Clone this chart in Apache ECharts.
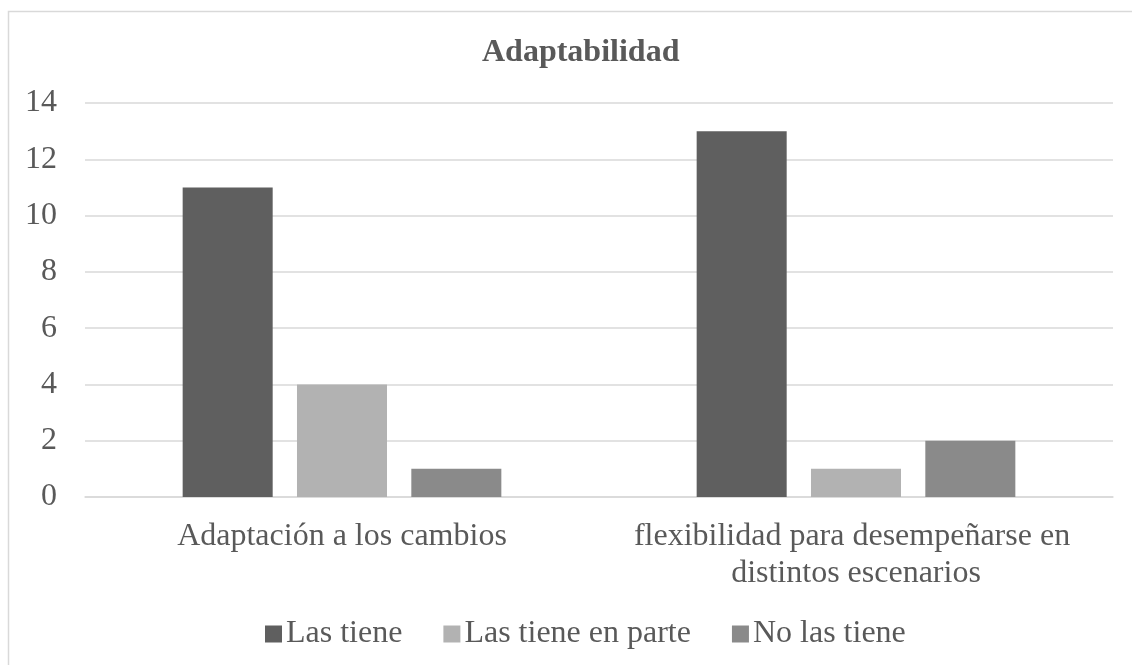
<!DOCTYPE html>
<html><head><meta charset="utf-8">
<script src="https://cdn.jsdelivr.net/npm/echarts@6/dist/echarts.min.js"></script>
<style>html,body{margin:0;padding:0;background:#fff}#c{width:1132px;height:665px}</style>
</head><body><div id="c"></div>
<script>
const titleText = "Adaptabilidad";
const categories = ["Adaptación a los cambios", "flexibilidad para desempeñarse en distintos escenarios"];
const seriesNames = ["Las tiene", "Las tiene en parte", "No las tiene"];
const lasTiene = [11, 13];
const lasTieneEnParte = [4, 1];
const noLasTiene = [1, 2];
const seriesValues = [lasTiene, lasTieneEnParte, noLasTiene];
const colors = ["#5f5f5f", "#b2b2b2", "#8a8a8a"];
const font = "'Liberation Serif', 'Times New Roman', serif";
const txt = "#595959";
const chart = echarts.init(document.getElementById('c'));
chart.setOption({
  animation: false,
  backgroundColor: '#fff',
  graphic: [{type:'rect', silent:true, shape:{x:8.5,y:11.5,width:1300,height:800}, style:{fill:'none', stroke:'#d9d9d9', lineWidth:1.5}}],
  title: {text: titleText, left: 477, top: 32, textStyle:{fontFamily: font, fontSize: 32, fontWeight:'bold', color: txt}},
  grid: {left: 85, right: 19, top: 103, bottom: 168},
  legend: {bottom: 10, left: 260, itemWidth: 17, itemHeight: 17, itemGap: 41,
    icon: 'rect', textStyle:{fontFamily: font, fontSize: 32, color: txt, padding:[0,0,0,-1]},
    data: seriesNames},
  xAxis: {type:'category', data: categories,
    axisLine:{lineStyle:{color:'#d9d9d9', width:1.5}}, axisTick:{show:false},
    axisLabel:{fontFamily: font, fontSize: 32, color: txt, margin: 21, lineHeight: 37, width: 480, overflow: 'break', interval: 0}},
  yAxis: {type:'value', min:0, max:14, interval:2,
    axisLine:{show:false}, axisTick:{show:false},
    splitLine:{lineStyle:{color:'#d9d9d9', width:1.5}},
    axisLabel:{fontFamily: font, fontSize: 32, color: txt, margin: 28}},
  series: seriesNames.map((n,i)=>({name:n, type:'bar', data: seriesValues[i],
    itemStyle:{color: colors[i]}, barGap:'27%', barCategoryGap:'38%'}))
});
</script></body></html>
